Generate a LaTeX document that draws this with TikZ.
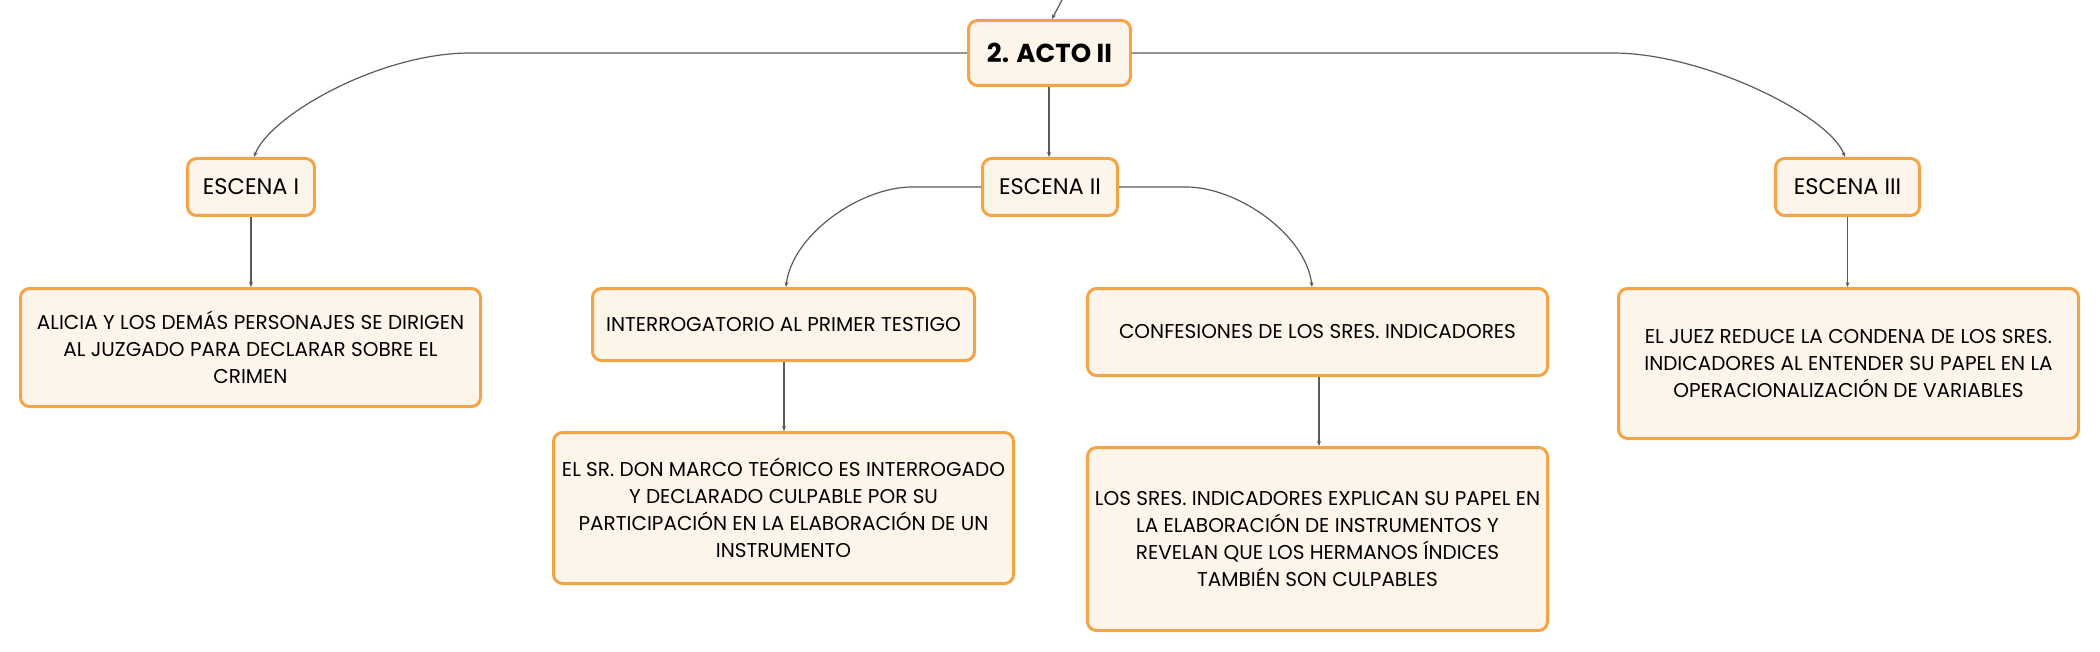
\documentclass[tikz,border=0pt]{standalone}
\usepackage{fontspec}
\setmainfont{Poppins}
\usetikzlibrary{arrows.meta}
\definecolor{boxborder}{HTML}{F4A447}
\definecolor{boxfill}{HTML}{FDF4EA}
\definecolor{linkcol}{HTML}{5A5A5A}
\tikzset{
  mmbox/.style={draw=boxborder, fill=boxfill, line width=3pt, rounded corners=9pt,
    align=center, inner sep=0pt, text=black, font=\fontsize{20}{27}\selectfont},
  mmscene/.style={mmbox, font=\fontsize{22.5}{27}\selectfont},
  mmtitle/.style={mmbox, font=\fontsize{26}{30}\selectfont\bfseries},
  link/.style={draw=linkcol, line width=1.2pt, -{Stealth[length=5pt,width=4pt]}}
}
\begin{document}
\begin{tikzpicture}[x=1pt,y=-1pt]
\useasboundingbox (0,0) rectangle (2100,652);
\node[mmtitle, minimum width=162pt, minimum height=65pt] (acto) at (1049.5,53) {2. ACTO II};
\node[mmscene, minimum width=127pt, minimum height=57pt] (e1) at (251,187) {ESCENA I};
\node[mmscene, minimum width=135pt, minimum height=57pt] (e2) at (1050,187) {ESCENA II};
\node[mmscene, minimum width=144pt, minimum height=57pt] (e3) at (1847.5,187) {ESCENA III};
\node[mmbox, minimum width=460pt, minimum height=118pt] (alicia) at (250.5,347.5)
  {ALICIA Y LOS DEMÁS PERSONAJES SE DIRIGEN\\AL JUZGADO PARA DECLARAR SOBRE EL\\CRIMEN};
\node[mmbox, minimum width=382pt, minimum height=72pt] (interr) at (783.5,324.5)
  {INTERROGATORIO AL PRIMER TESTIGO};
\node[mmbox, minimum width=460pt, minimum height=87pt] (conf) at (1317.5,332)
  {CONFESIONES DE LOS SRES. INDICADORES};
\node[mmbox, minimum width=460pt, minimum height=151pt] (elsr) at (783.5,508)
  {EL SR. DON MARCO TEÓRICO ES INTERROGADO\\Y DECLARADO CULPABLE POR SU\\PARTICIPACIÓN EN LA ELABORACIÓN DE UN\\INSTRUMENTO};
\node[mmbox, minimum width=460pt, minimum height=183pt] (lossres) at (1317.5,539)
  {LOS SRES. INDICADORES EXPLICAN SU PAPEL EN\\LA ELABORACIÓN DE INSTRUMENTOS Y\\REVELAN QUE LOS HERMANOS ÍNDICES\\TAMBIÉN SON CULPABLES};
\node[mmbox, minimum width=460pt, minimum height=150pt] (juez) at (1848.5,363.5)
  {EL JUEZ REDUCE LA CONDENA DE LOS SRES.\\INDICADORES AL ENTENDER SU PAPEL EN LA\\OPERACIONALIZACIÓN DE VARIABLES};
\coordinate (top) at (1063,-2);
\coordinate (l1) at (470,53);
\coordinate (r1) at (1613,53);
\coordinate (l2) at (912,187);
\coordinate (r2) at (1186,187);
% connectors
\draw[link] (top) -- (acto.north -| 1052,0);
\draw[link] (acto.south -| 1049,0) -- (e2.north -| 1049,0);
\draw[link] (acto.west) -- (l1) .. controls (380,53) and (270,115) .. (e1.north -| 254,0);
\draw[link] (acto.east) -- (r1) .. controls (1703,53) and (1829,115) .. (e3.north -| 1845,0);
\draw[link] (e1.south) -- (alicia.north -| e1.south);
\draw[link] (e2.west) -- (l2) .. controls (860,187) and (792,235) .. (interr.north -| 786,0);
\draw[link] (e2.east) -- (r2) .. controls (1238,187) and (1306,235) .. (conf.north -| 1312,0);
\draw[link] (interr.south -| 784,0) -- (elsr.north -| 784,0);
\draw[link] (conf.south -| 1319,0) -- (lossres.north -| 1319,0);
\draw[link] (e3.south) -- (juez.north -| e3.south);
\end{tikzpicture}
\end{document}
